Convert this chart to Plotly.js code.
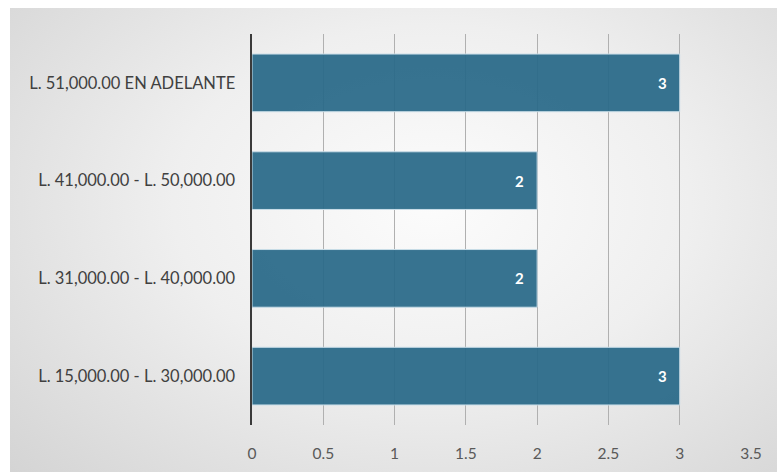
<!DOCTYPE html>
<html>
<head>
<meta charset="utf-8">
<script src="https://cdn.plot.ly/plotly-3.0.1.min.js"></script>
<style>
  html, body { margin: 0; padding: 0; background: #ffffff; }
  #wrap { position: relative; width: 777px; height: 472px; }
  #bg {
    position: absolute; left: 10px; top: 8px; width: 767px; height: 464px;
    background: radial-gradient(ellipse 75% 85% at 55% 42%, #fcfcfc 0%, #efefef 45%, #d4d4d4 100%);
  }
  #chart { position: absolute; left: 0; top: 0; width: 777px; height: 472px; }
</style>
</head>
<body>
<div id="wrap">
  <div id="bg"></div>
  <div id="chart"></div>
</div>
<script>
// Salary ranges (bottom to top) and number of respondents in each
const categories = [
  'L. 15,000.00 - L. 30,000.00',
  'L. 31,000.00 - L. 40,000.00',
  'L. 41,000.00 - L. 50,000.00',
  'L. 51,000.00 EN ADELANTE'
];
const counts = [3, 2, 2, 3];
const xTicks = [0, 0.5, 1, 1.5, 2, 2.5, 3, 3.5];
const xTickLabels = ['0', '0.5', '1', '1.5', '2', '2.5', '3', '3.5'];

const barTrace = {
  type: 'bar',
  orientation: 'h',
  x: counts,
  y: categories,
  marker: {
    color: 'rgba(40,104,136,0.93)',
    line: { color: '#c9dde8', width: 1 }
  },
  hoverinfo: 'none'
};

// Value labels placed just inside the end of each bar
const valueLabels = counts.map((v, i) => ({
  x: v,
  y: categories[i],
  xref: 'x',
  yref: 'y',
  text: '<b>' + v + '</b>',
  showarrow: false,
  xanchor: 'right',
  xshift: -11,
  font: { family: 'Lato, "Open Sans", sans-serif', size: 15, color: '#ffffff' }
}));

const layout = {
  width: 777,
  height: 472,
  margin: { l: 252, r: 26, t: 34, b: 47 },
  paper_bgcolor: 'rgba(0,0,0,0)',
  plot_bgcolor: 'rgba(0,0,0,0)',
  showlegend: false,
  bargap: 0.41,
  font: { family: 'Lato, "Open Sans", sans-serif', color: '#595959', size: 15 },
  xaxis: {
    range: [0, 3.5],
    tickvals: xTicks,
    ticktext: xTickLabels,
    showgrid: true,
    gridcolor: '#b0b0b0',
    gridwidth: 1,
    zeroline: false,
    showline: false,
    ticks: '',
    ticklabelstandoff: 17,
    tickfont: { size: 15.5, color: '#595959' },
    fixedrange: true
  },
  yaxis: {
    categoryorder: 'array',
    categoryarray: categories,
    showgrid: false,
    zeroline: false,
    showline: true,
    linecolor: '#3a3a3a',
    linewidth: 2.5,
    ticks: '',
    ticklabelstandoff: 11,
    tickfont: { size: 16.5, color: '#404040' },
    fixedrange: true
  },
  annotations: valueLabels
};

Plotly.newPlot('chart', [barTrace], layout, { displayModeBar: false, staticPlot: true });
</script>
</body>
</html>
